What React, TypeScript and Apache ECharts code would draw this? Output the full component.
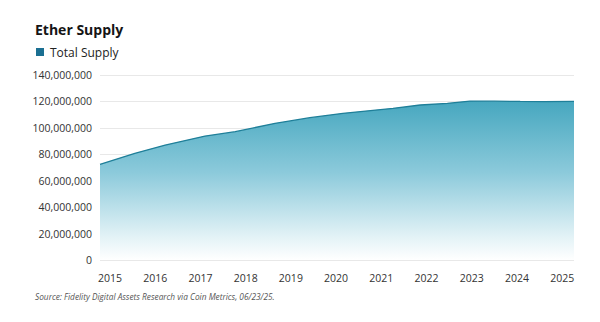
import React, { useEffect, useRef } from "react";
import * as echarts from "echarts";

const years = [2014.78, 2015.55, 2016.22, 2016.88, 2017.1, 2017.77, 2018.65, 2019.42, 2020.15, 2021.26, 2021.86, 2022.46, 2022.96, 2023.5, 2024.07, 2024.6, 2025.26];
const totalSupply = [72.4e6, 80.7e6, 87.0e6, 92.1e6, 93.8e6, 97.1e6, 103.4e6, 107.7e6, 111.0e6, 114.8e6, 117.3e6, 118.6e6, 120.3e6, 120.2e6, 120.0e6, 119.9e6, 120.0e6];
const yearTicks = [2015, 2016, 2017, 2018, 2019, 2020, 2021, 2022, 2023, 2024, 2025];

const FONT = "'Open Sans', 'Noto Sans', sans-serif";

export default function App() {
  const ref = useRef<HTMLDivElement>(null);
  useEffect(() => {
    if (!ref.current) return;
    const chart = echarts.init(ref.current, null, { renderer: "svg" });
    chart.setOption({
      animation: false,
      backgroundColor: "#ffffff",
      textStyle: { fontFamily: FONT },
      title: {
        text: "Ether Supply",
        left: 35,
        top: 22,
        padding: 0,
        textStyle: { fontFamily: FONT, fontSize: 14, fontWeight: "bold", color: "#151515" },
      },
      legend: {
        left: 36,
        top: 46,
        padding: 0,
        icon: "rect",
        itemWidth: 8,
        itemHeight: 8,
        itemGap: 10,
        itemStyle: { color: "#1b6f92" },
        textStyle: { fontFamily: FONT, fontSize: 12, color: "#222", padding: [0, 0, 0, 1] },
        data: ["Total Supply"],
      },
      grid: { left: 100, right: 26, top: 75, bottom: 62, containLabel: false },
      xAxis: {
        type: "value",
        min: 2014.78,
        max: 2025.26,
        axisLine: { show: false },
        axisTick: { show: false },
        splitLine: { show: false },
        axisLabel: {
          customValues: yearTicks,
          formatter: (v: number) => String(Math.round(v)),
          fontFamily: FONT,
          fontSize: 10.5,
          color: "#333",
          margin: 12,
        },
      },
      yAxis: {
        type: "value",
        min: 0,
        max: 140000000,
        interval: 20000000,
        axisLine: { show: false },
        axisTick: { show: false },
        splitLine: { lineStyle: { color: "#e8e8e8", width: 1 } },
        axisLabel: {
          formatter: (v: number) => v.toLocaleString("en-US"),
          fontFamily: FONT,
          fontSize: 10.5,
          color: "#333",
          margin: 8,
        },
      },
      series: [
        {
          name: "Total Supply",
          type: "line",
          data: years.map((y, i) => [y, totalSupply[i]]),
          showSymbol: false,
          symbol: "none",
          itemStyle: { color: "#1b6f92" },
          lineStyle: { color: "#1f7f99", width: 1.3 },
          areaStyle: {
            color: new echarts.graphic.LinearGradient(0, 0, 0, 1, [
              { offset: 0, color: "#46a7bf" },
              { offset: 0.45, color: "#8ccadb" },
              { offset: 0.85, color: "#e2f2f6" },
              { offset: 1, color: "#ffffff" },
            ]),
            opacity: 1,
          },
        },
      ],
      graphic: [
        {
          type: "text",
          left: 35,
          top: 292,
          style: {
            text: "Source: Fidelity Digital Assets Research via Coin Metrics, 06/23/25.",
            fontFamily: FONT,
            fontSize: 8.3,
            fontStyle: "italic",
            fill: "#555",
          },
        },
      ],
    });
    return () => chart.dispose();
  }, []);
  return <div ref={ref} style={{ width: 600, height: 322, position: "absolute", left: 0, top: 0 }} />;
}
